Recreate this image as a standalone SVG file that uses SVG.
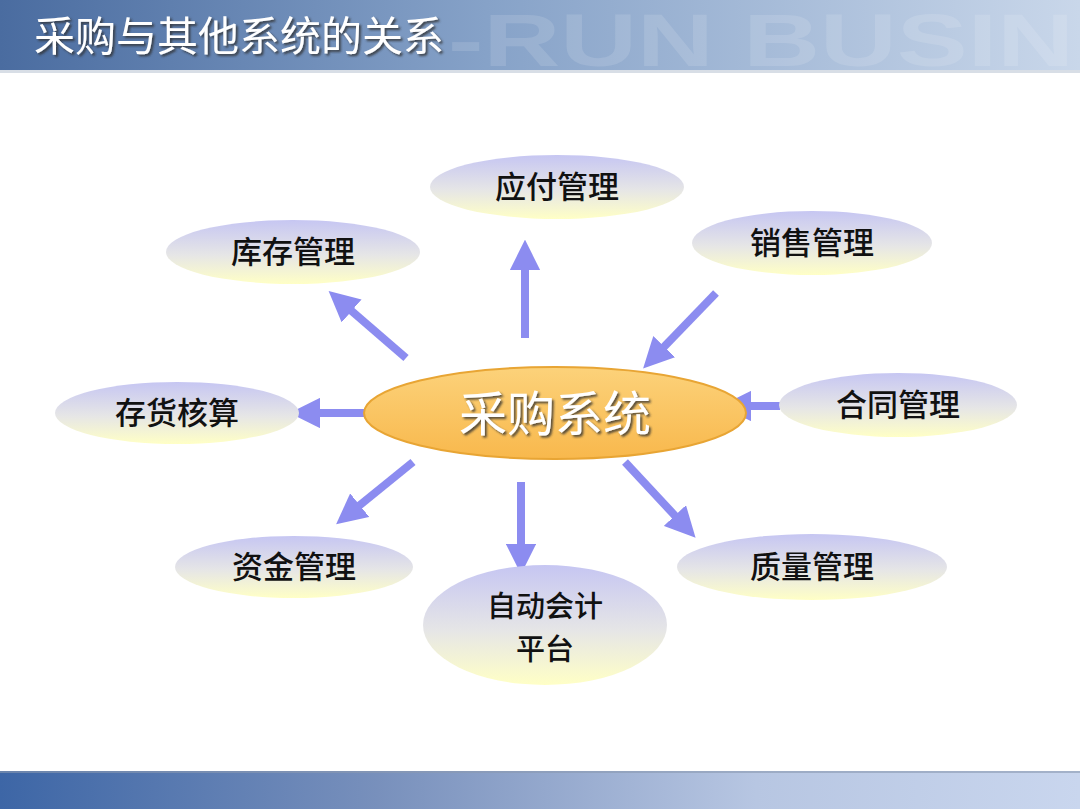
<svg xmlns="http://www.w3.org/2000/svg" width="1080" height="809" viewBox="0 0 1080 809">
<defs>
<linearGradient id="hdr" x1="0" y1="0" x2="1" y2="0">
<stop offset="0" stop-color="#4A6CA0"/><stop offset="0.45" stop-color="#86A2C8"/><stop offset="1" stop-color="#C9D7EA"/>
</linearGradient>
<linearGradient id="ftr" x1="0" y1="0" x2="1" y2="0">
<stop offset="0" stop-color="#3D66A6"/><stop offset="0.35" stop-color="#7890BC"/><stop offset="0.7" stop-color="#B7C6E2"/><stop offset="1" stop-color="#C9D6EE"/>
</linearGradient>
<linearGradient id="node" x1="0" y1="0" x2="0" y2="1">
<stop offset="0" stop-color="#C6C6F2"/><stop offset="0.55" stop-color="#E6E6E6"/><stop offset="1" stop-color="#FFFFC6"/>
</linearGradient>
<linearGradient id="core" x1="0" y1="0" x2="0" y2="1">
<stop offset="0" stop-color="#FCD27A"/><stop offset="1" stop-color="#F8B84C"/>
</linearGradient>
<marker id="ah" viewBox="0 0 10 10" refX="2" refY="5" markerWidth="3.8" markerHeight="3.8" orient="auto" markerUnits="strokeWidth">
<path d="M0,0 L10,5 L0,10 Z" fill="#8C8CF0"/>
</marker>
<filter id="sh" x="-10%" y="-10%" width="130%" height="140%">
<feDropShadow dx="2" dy="2" stdDeviation="1" flood-color="#333" flood-opacity="0.8"/>
</filter>
</defs>
<style>
.n{fill:url(#node);stroke:none}
.t{font-family:"Noto Sans CJK SC","Noto Sans",sans-serif;font-size:31px;fill:#111;text-anchor:middle;font-weight:500}
.c line{stroke:#8C8CF0;stroke-width:8;marker-end:url(#ah)}
</style>
<rect x="0" y="0" width="1080" height="809" fill="#FFFFFF"/>
<g id="header">
<rect x="0" y="0" width="1080" height="70" fill="url(#hdr)"/>
<text x="448" y="66" font-family="Liberation Sans,sans-serif" font-weight="bold" font-size="74" fill="#FFFFFF" fill-opacity="0.13" textLength="626" lengthAdjust="spacingAndGlyphs">-RUN BUSIN</text>
<rect x="0" y="70" width="1080" height="3" fill="#D8DEE6"/>
<text x="34" y="51" font-family="Noto Sans CJK SC,sans-serif" font-size="41" fill="#FFFFFF" filter="url(#sh)" textLength="410" lengthAdjust="spacingAndGlyphs">采购与其他系统的关系</text>
</g>
<g id="footer"><rect x="0" y="771" width="1080" height="38" fill="url(#ftr)"/><rect x="0" y="771" width="1080" height="2" fill="#8A9AB0" opacity="0.6"/></g>
<g class="c" id="connectors">
<line x1="525" y1="338" x2="525" y2="264"/>
<line x1="406" y1="358" x2="347" y2="307"/>
<line x1="366" y1="413" x2="314" y2="413"/>
<line x1="413" y1="462" x2="355" y2="509"/>
<line x1="521" y1="482" x2="521" y2="550"/>
<line x1="625" y1="462" x2="679" y2="520"/>
<line x1="780" y1="406" x2="745" y2="406"/>
<line x1="716" y1="293" x2="660" y2="351"/>
</g>
<g id="n-yingfu"><ellipse class="n" cx="557" cy="187" rx="127" ry="32"/><text class="t" x="557" y="198">应付管理</text></g>
<g id="n-xiaoshou"><ellipse class="n" cx="812" cy="243" rx="120" ry="32"/><text class="t" x="812" y="254">销售管理</text></g>
<g id="n-kucun"><ellipse class="n" cx="293" cy="252" rx="127" ry="32"/><text class="t" x="293" y="263">库存管理</text></g>
<g id="n-cunhuo"><ellipse class="n" cx="177" cy="413" rx="122" ry="31"/><text class="t" x="177" y="424">存货核算</text></g>
<g id="n-hetong"><ellipse class="n" cx="898" cy="405" rx="119" ry="32"/><text class="t" x="898" y="416">合同管理</text></g>
<g id="n-zijin"><ellipse class="n" cx="294" cy="567" rx="119" ry="31"/><text class="t" x="294" y="578">资金管理</text></g>
<g id="n-zhiliang"><ellipse class="n" cx="812" cy="567" rx="135" ry="33"/><text class="t" x="812" y="578">质量管理</text></g>
<g id="n-zidong"><ellipse class="n" cx="545" cy="625" rx="122" ry="60"/><text class="t" x="545" y="617" style="font-size:29px">自动会计<tspan x="545" dy="43">平台</tspan></text></g>
<g id="n-caigou"><ellipse cx="555" cy="413" rx="191" ry="46" fill="url(#core)" stroke="#E8A534" stroke-width="2"/><text x="555" y="431" font-family="Noto Sans CJK SC,sans-serif" font-size="48" fill="#FFFFFF" text-anchor="middle" filter="url(#sh)">采购系统</text></g>
</svg>
